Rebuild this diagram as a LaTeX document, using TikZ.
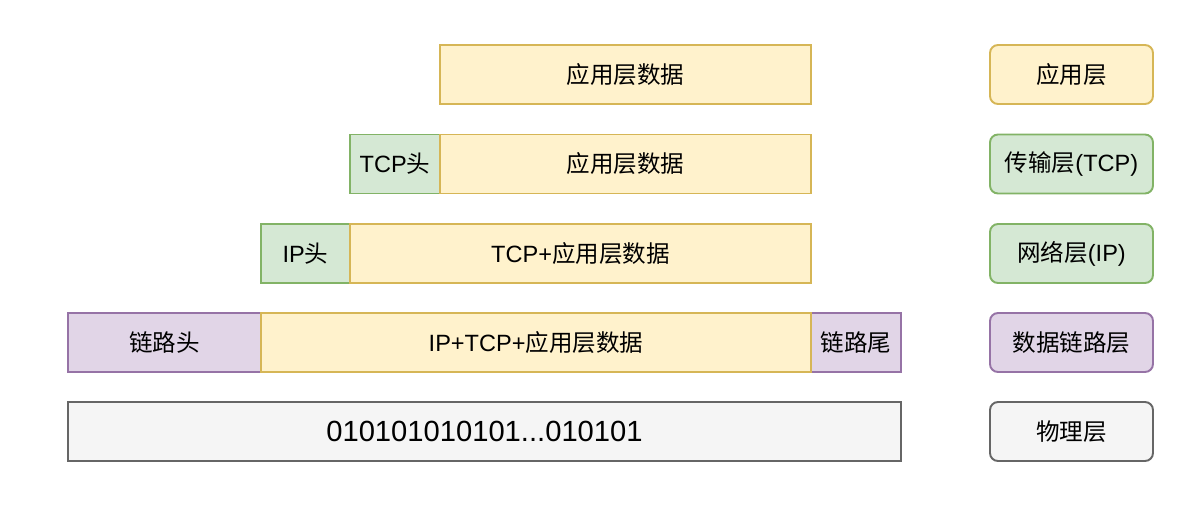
\documentclass[tikz,border=0pt]{standalone}
\usepackage{fontspec}
\setmainfont{Liberation Sans}
\newfontfamily\cjk{Noto Sans CJK SC}
\usepackage{tikz}
\usetikzlibrary{positioning}
\definecolor{ylwfill}{HTML}{FFF2CC}
\definecolor{ylwline}{HTML}{D6B656}
\definecolor{grnfill}{HTML}{D5E8D4}
\definecolor{grnline}{HTML}{82B366}
\definecolor{purfill}{HTML}{E1D5E7}
\definecolor{purline}{HTML}{9673A6}
\definecolor{gryfill}{HTML}{F5F5F5}
\definecolor{gryline}{HTML}{666666}
\newcommand{\zh}[1]{{\cjk #1}}
\tikzset{
    %Define style for packet fields
    field/.style={
           rectangle,
           draw, line width=1.1pt,
           outer sep=0pt,
           minimum height=1.18cm,
           font=\fontsize{13.4}{16}\selectfont,
           text centered},
    datafield/.style={
           field,
           draw=ylwline,
           fill=ylwfill},
    headfield/.style={
           field,
           draw=grnline,
           fill=grnfill,
           minimum width=1.8cm},
    linkfield/.style={
           field,
           draw=purline,
           fill=purfill},
    bitfield/.style={
           field,
           draw=gryline,
           fill=gryfill,
           font=\fontsize{16.6}{20}\selectfont},
    %Define style for layer names
    layer/.style={
           field,
           rounded corners=0.16cm,
           minimum width=3.26cm}
}
\begin{document}
\begin{tikzpicture}
\useasboundingbox (0,0) rectangle (23.84,-10.12);
 %packets
\node[datafield, minimum width=7.42cm] (appdata) at (12.51,-1.49) {\zh{应用层数据}};
\node[headfield] (tcphead) at (7.9,-3.28) {TCP\zh{头}};
\node[datafield, minimum width=7.42cm, right=0pt of tcphead] (tcpdata) {\zh{应用层数据}};
\node[headfield, minimum width=1.78cm] (iphead) at (6.11,-5.07) {IP\zh{头}};
\node[datafield, minimum width=9.22cm, right=0pt of iphead] (ipdata) {TCP+\zh{应用层数据}};
\node[linkfield, minimum width=3.86cm] (linkhead) at (3.29,-6.85) {\zh{链路头}};
\node[linkfield, minimum width=1.8cm] (linktail) at (17.12,-6.85) {\zh{链路尾}};
\node[datafield, minimum width=11cm, right=0pt of linkhead] (linkdata) {IP+TCP+\zh{应用层数据}};
\node[bitfield, minimum width=16.66cm] (bits) at (9.69,-8.63) {010101010101...010101};
 %layers
\node[layer, draw=ylwline, fill=ylwfill] (app) at (21.43,-1.49) {\zh{应用层}};
\node[layer, draw=grnline, fill=grnfill] (trans) at (21.43,-3.28) {\zh{传输层}(TCP)};
\node[layer, draw=grnline, fill=grnfill] (net) at (21.43,-5.07) {\zh{网络层}(IP)};
\node[layer, draw=purline, fill=purfill] (link) at (21.43,-6.85) {\zh{数据链路层}};
\node[layer, draw=gryline, fill=gryfill] (phys) at (21.43,-8.63) {\zh{物理层}};
\end{tikzpicture}
\end{document}
